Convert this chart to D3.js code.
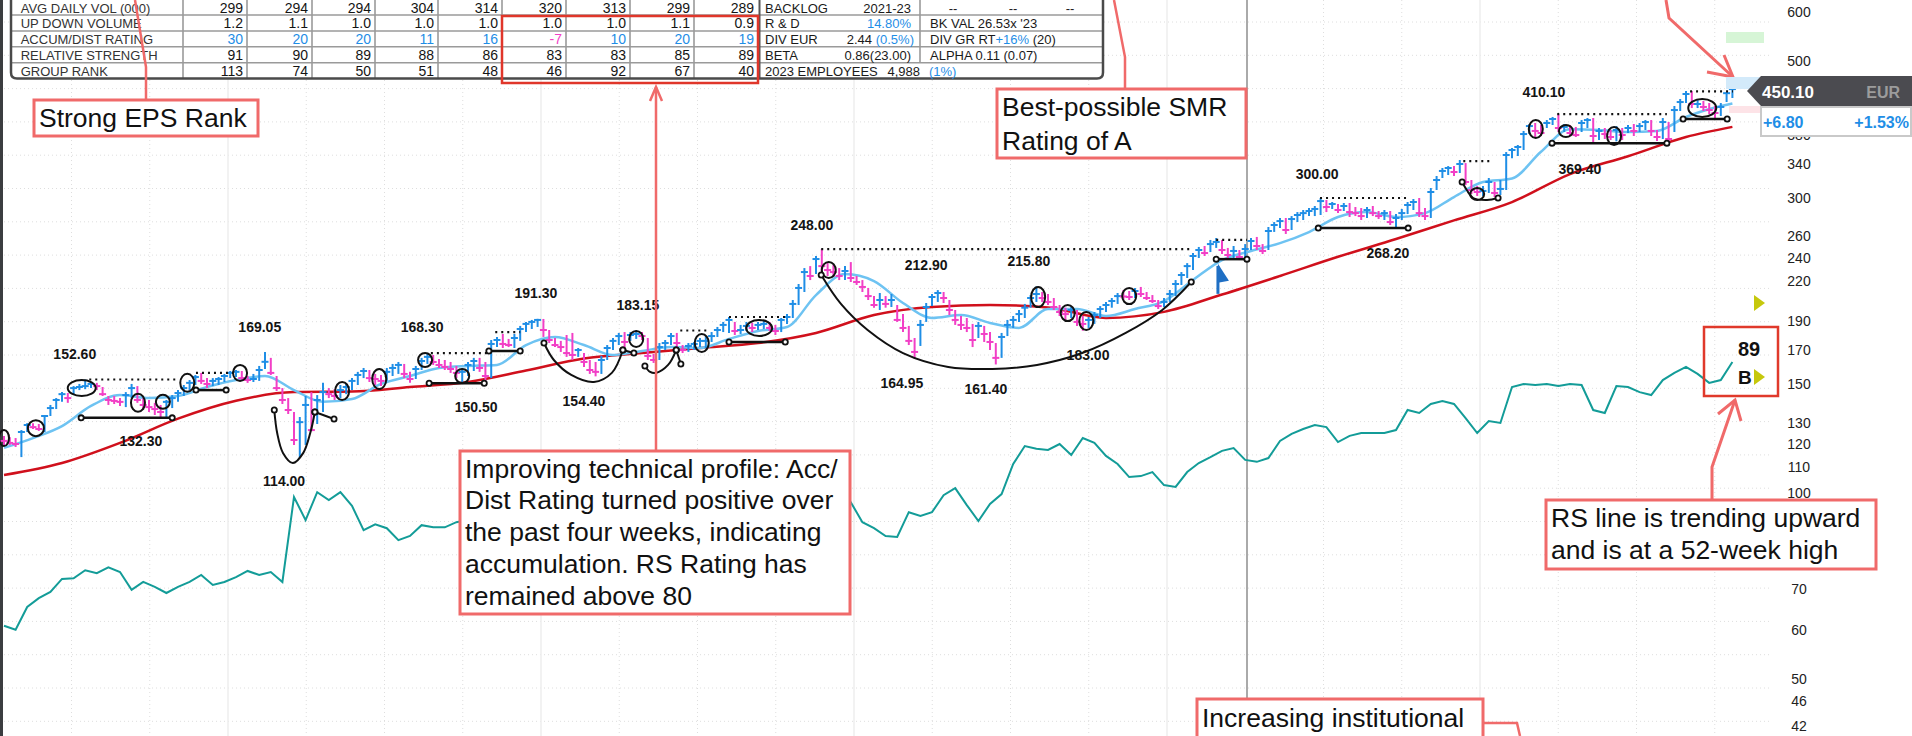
<!DOCTYPE html>
<meta charset="utf-8">
<script src="https://d3js.org/d3.v7.min.js"></script>
<style>
body { margin: 0; background: #fff; }
svg { display: block; font-family: "Liberation Sans", Arial, sans-serif; }
</style>
<svg id="chart" width="1912" height="736"></svg>
<script>
// ---- daily bars (price, EUR) ----
const high = [
123.6,123.1,122.7,126.4,129.7,129.7,129.3,133.7,138.8,142.4,
145.6,145.1,148.9,150.1,152.6,151.2,150.7,148.4,143.5,143.5,
142.4,145.6,150.1,148.9,142.4,141.4,139.9,138.8,141.4,144.0,
146.7,149.5,152.3,155.2,156.4,153.4,153.4,154.0,155.8,157.5,
158.1,157.5,154.6,155.8,160.5,169.05,165.4,154.6,147.8,142.4,
135.2,132.7,143.5,145.6,144.0,150.7,147.8,147.2,149.5,150.7,
153.4,157.0,159.3,158.1,155.8,155.2,159.3,161.7,162.9,161.7,
157.0,160.5,165.4,168.3,167.2,164.7,164.1,162.9,160.5,159.3,
162.9,165.4,165.4,162.9,176.8,178.8,180.8,177.5,180.8,186.3,
189.1,190.5,191.3,191.2,183.5,178.1,176.2,180.1,181.5,171.6,
168.4,164.1,162.9,166.6,173.5,178.1,181.5,182.1,182.1,183.15,
182.1,178.1,167.8,174.8,176.8,181.5,181.5,173.5,174.8,175.5,
178.1,179.4,182.1,185.6,189.1,192.6,189.1,187.0,189.1,188.4,
189.1,189.8,189.1,187.0,191.9,194.7,205.2,217.8,231.1,232.8,
241.7,248.0,235.4,233.7,231.1,232.8,236.3,224.4,221.0,214.6,
208.2,210.6,208.2,209.8,201.4,194.7,186.3,178.1,190.5,202.9,
209.8,212.9,211.4,205.2,197.7,193.3,191.9,187.7,189.1,186.3,
182.1,174.8,181.5,190.5,193.3,197.7,202.2,209.0,215.8,211.4,
209.8,206.7,201.4,199.4,199.9,197.7,193.3,192.6,196.2,200.6,
203.7,206.7,210.6,213.0,212.2,214.6,215.4,211.4,209.0,205.2,
206.7,213.0,221.0,227.7,235.4,244.4,250.0,250.9,256.6,258.5,
256.6,249.1,250.9,247.2,252.7,258.5,259.5,252.7,269.3,274.3,
278.5,278.5,280.5,284.7,286.9,289.0,291.2,300.0,297.8,295.6,
293.4,294.5,294.5,290.1,289.0,290.1,291.2,285.8,286.9,285.8,
282.6,288.0,295.6,298.9,300.0,289.0,311.4,325.6,335.5,337.9,
337.9,345.6,341.7,320.8,313.7,313.7,323.2,318.4,320.8,356.0,
361.4,365.5,385.1,395.2,396.7,393.7,401.1,405.7,410.1,395.2,
393.7,390.9,401.1,404.1,404.1,389.4,389.4,386.5,392.2,389.4,
393.7,395.2,396.7,401.1,401.1,386.5,404.1,398.1,422.6,433.8,
446.8,446.8,432.1,430.5,427.3,422.6,427.3,445.0,451.9];
const low = [
119.2,119.6,118.7,114.3,125.5,126.9,126.0,125.5,133.2,136.7,
140.4,139.9,144.0,146.7,147.2,147.8,146.7,143.5,138.8,139.3,
138.3,137.7,142.4,139.9,136.2,135.2,133.7,132.7,132.3,137.2,
140.4,143.5,146.7,149.5,150.1,147.8,148.9,149.5,151.2,153.4,
154.0,151.8,150.7,151.2,151.8,158.7,155.2,146.2,139.3,134.2,
119.6,114.0,119.6,125.9,129.3,135.2,142.4,141.4,142.4,144.5,
146.7,149.5,153.4,151.2,149.5,148.9,151.8,154.6,155.8,153.4,
150.7,152.9,158.1,161.7,161.1,159.3,158.1,156.4,153.4,150.5,
154.6,157.5,157.0,151.8,153.4,172.2,171.6,172.2,171.6,176.2,
182.1,184.2,185.6,178.8,174.8,172.2,169.1,166.0,164.1,166.0,
159.9,155.8,154.4,155.8,164.1,170.3,173.5,172.2,176.2,177.5,
176.8,164.1,162.3,164.1,170.3,173.5,171.6,168.4,169.1,170.3,
172.2,171.6,175.5,178.8,182.1,181.5,180.1,180.8,182.8,182.1,
183.5,184.2,182.8,180.1,182.1,187.7,191.9,201.4,211.4,221.0,
226.0,227.7,224.4,223.5,221.0,221.0,219.4,217.0,211.4,205.2,
199.4,197.7,199.4,199.9,189.1,182.1,173.5,164.95,172.9,189.1,
200.6,203.7,202.9,194.0,187.0,183.5,182.1,172.2,178.1,175.5,
170.3,161.4,165.4,179.4,184.9,189.1,191.9,199.4,203.7,203.7,
201.4,197.7,193.3,190.5,191.9,186.3,183.0,184.9,187.7,191.9,
196.2,199.4,202.2,205.2,205.2,206.7,207.5,205.2,202.9,198.4,
199.9,203.7,208.2,217.0,222.7,229.4,239.9,241.7,245.3,249.1,
243.5,239.9,239.9,238.1,239.9,247.2,247.2,243.5,247.2,264.4,
268.3,262.4,266.3,274.3,276.4,280.5,280.5,281.6,284.7,288.0,
283.6,285.8,279.5,280.5,276.4,278.5,280.5,277.4,276.4,271.3,
268.2,276.4,282.6,286.9,279.5,276.4,278.5,309.1,323.2,326.8,
325.6,329.3,314.9,304.5,302.3,302.3,305.7,301.1,303.4,309.1,
347.9,350.8,358.7,380.7,376.5,377.9,389.4,393.7,383.6,383.6,
377.9,376.5,383.6,389.4,369.4,372.3,373.7,372.3,370.5,372.3,
382.2,377.9,383.6,386.5,377.9,370.9,373.7,370.0,383.6,414.8,
427.3,419.4,419.4,414.8,410.2,404.1,407.2,429.0,435.4];
const close = [
121.4,120.5,120.0,125.5,128.8,127.8,126.9,133.2,137.2,141.4,
144.5,142.4,147.8,148.4,148.9,150.1,148.9,144.5,141.4,140.9,
140.4,144.0,147.8,141.4,138.8,137.7,136.7,135.2,140.4,142.4,
145.1,147.8,150.7,154.0,151.8,150.1,151.8,152.9,154.6,156.4,
157.0,153.4,152.3,152.9,158.1,163.0,156.4,147.8,141.4,136.2,
121.8,130.2,138.8,126.4,141.4,145.6,144.5,143.5,146.7,148.4,
151.8,155.2,157.5,153.4,152.9,151.8,157.0,159.3,161.1,155.8,
152.9,158.7,163.5,166.0,162.9,161.1,159.9,158.7,156.4,157.0,
161.1,163.5,159.3,154.6,174.2,176.8,174.2,173.5,178.1,184.2,
187.7,189.1,190.5,183.5,176.8,173.5,172.2,168.4,167.2,170.3,
162.9,158.1,157.0,164.1,171.6,176.2,179.4,175.5,180.1,180.8,
179.4,166.6,164.1,172.2,174.8,179.4,174.8,170.3,172.9,174.2,
176.2,176.2,179.4,183.5,187.0,190.5,182.8,183.5,186.3,184.9,
187.0,187.7,184.9,182.8,190.5,192.6,202.2,214.6,227.7,224.4,
239.0,232.8,229.4,227.7,224.4,228.6,222.7,219.4,215.4,208.2,
201.4,205.2,202.2,205.2,190.5,184.9,176.2,169.1,187.0,199.9,
207.5,210.6,206.7,197.7,190.5,187.0,184.9,176.8,186.3,180.8,
175.5,165.4,178.8,187.0,190.5,194.7,199.4,206.7,209.8,206.7,
203.7,199.9,196.2,194.7,197.7,189.1,187.7,190.5,194.0,198.4,
201.4,204.4,208.2,207.9,207.5,212.2,209.8,206.7,204.4,200.6,
203.7,209.8,217.8,225.2,232.8,241.7,247.2,244.4,252.7,254.7,
247.2,242.6,246.3,240.8,248.1,255.6,250.9,246.3,265.3,271.3,
275.3,266.3,277.4,281.6,283.6,285.8,288.0,296.6,290.1,293.4,
286.9,291.2,284.7,283.6,280.5,286.9,283.6,280.5,283.6,274.3,
278.5,283.6,292.3,295.6,283.6,280.5,306.8,320.8,331.8,335.5,
330.5,340.5,318.4,309.1,306.8,308.0,318.4,305.7,310.3,352.1,
358.7,362.8,380.7,392.2,385.1,382.2,396.7,402.6,389.4,390.9,
382.2,379.3,396.7,401.1,377.9,385.1,380.7,376.5,386.5,379.3,
389.4,385.1,392.2,398.1,385.1,376.5,398.1,373.7,416.3,428.9,
441.9,425.8,425.8,421.1,416.3,411.7,421.1,443.3,450.1];

// moving averages: [day, value]
const maFast = [[0,118.3],[5,122.7],[10,128.3],[15,138.3],[20,144.0],[25,142.4],[30,143.5],[35,148.4],
  [40,152.3],[45,154.6],[50,146.7],[55,140.4],[60,141.9],[65,150.1],[70,154.6],[75,159.3],[80,160.5],
  [85,161.1],[90,173.5],[95,178.8],[100,173.5],[105,167.2],[110,169.7],[115,172.2],[120,171.6],
  [125,177.5],[130,182.8],[135,185.6],[140,209.0],[145,226.0],[150,220.2],[155,202.9],[160,191.9],
  [165,194.0],[170,188.4],[175,184.9],[180,198.4],[185,198.4],[190,193.3],[195,198.4],[200,204.4],
  [205,221.0],[210,238.1],[215,246.3],[220,253.6],[225,264.3],[230,279.5],[235,284.7],[240,279.5],
  [245,283.6],[250,301.1],[255,318.4],[260,322.6],[265,356.4],[270,387.5],[275,386.5],[280,383.6],
  [285,385.1],[290,405.7],[295,420.3],[298,426.7]];
const maSlow = [[0,106.9],[10,111.8],[20,120.5],[30,131.9],[40,141.0],[50,145.6],[60,145.9],[70,148.4],
  [80,151.2],[90,157.8],[100,165.0],[110,168.4],[120,171.6],[130,174.8],[140,181.5],[150,194.0],
  [160,199.9],[170,201.4],[180,199.6],[190,191.9],[200,196.3],[210,209.4],[220,224.4],[230,241.0],
  [240,257.5],[250,276.0],[260,295.5],[270,328.0],[280,350.5],[290,376.5],[298,391.0]];

// relative strength line, one value every 2 days (hidden behind the callout in between)
const rsStep = 2;
const rsFirst = [61.0,60.1,65.4,67.6,69.2,72.6,72.8,75.0,74.2,75.8,74.5,69.7,71.8,70.5,68.9,70.5,
  71.8,73.7,71.0,71.8,73.1,74.8,73.7,74.5,71.8,98.5,90.4,100.3,97.4,100.3,95.3,87.1,89.0,87.7,83.9,
  85.2,88.7,88.0,88.0,89.7,90.4];
const rsSecondStart = 144;
const rsSecond = [96.6,96.6,89.7,87.7,85.2,84.9,93.1,91.8,93.1,99.2,101.8,95.6,90.1,96.0,99.6,111.4,
  119.1,117.9,117.4,120.0,115.2,122.7,120.5,114.8,111.4,106.1,106.5,108.1,103.0,102.3,108.1,111.8,
  114.3,117.0,118.2,113.1,112.3,113.9,121.4,124.6,126.9,128.8,127.8,120.9,123.7,125.0,125.0,125.0,
  126.4,136.2,134.7,139.3,140.9,139.3,132.2,125.0,130.7,129.8,148.4,150.1,149.5,150.1,148.9,150.1,
  149.5,136.2,134.7,148.9,148.4,145.6,144.0,152.3,156.4,160.0,155.8,150.7,152.3,162.9];

// chart markup: [day, price, rx, ry]
const ellipses = [[0,122.7,5,8],[5.5,127.3,8,8],[13.4,147.8,14,8],[23.1,139.9,7,9],[27.4,140.4,7,7],
  [31.6,150.7,7,9],[40.7,156.4,7,8],[58.3,146.2,7,9],[64.7,152.9,7,10],[72.6,164.1,7,7],[79,154.6,7,7],
  [109,177.5,7,8],[120.3,174.8,7,9],[130.2,184.9,13,8],[142.2,229.4,7,8],[178.3,207.5,7,10],
  [183.4,195.4,7,8],[186.6,189.8,7,9],[194,208.2,7,8],[254,304.5,7,6],[264.1,387.9,7,9],
  [269.3,385.1,7,6],[277.6,377.9,7,9],[292.8,419.4,14,9]];
// base lines: [dayFrom, dayTo, price]
const baseLines = [[13.3,29,132.3],[33.1,38.3,146.7],[73.3,82.8,150.5],[83.6,89,169.7],[125,134.7,175.5],
  [209,214.3,238.9],[226.6,242.1,268.2],[266.9,286.7,368.0],[289.5,297.1,402.6]];
const pivotLines = [[14.7,30,152.6],[33.1,40.2,156.4],[73.6,83.3,168.3],[84.7,89,182.1],[116.6,121.2,183.15],
  [125,135,192.6],[140.9,204.7,248.0],[209,214.3,256.6],[226.9,242.4,300.0],[251.6,256.7,344.3],
  [267.8,286.7,410.1],[290.7,298.1,446.4]];
const curves = [
  [[46.6,136.2],[47.1,125.0],[48.1,116.1],[49.8,111.8],[51.6,116.1],[52.8,125.0],[53.6,135.2]],
  [[53.6,135.2],[56.9,131.7]],
  [[93.1,174.8],[94.8,164.1],[97.8,155.2],[101.7,151.2],[104.8,156.4],[106.7,170.3]],
  [[106.7,170.3],[108.6,168.4]],
  [[110.5,160.5],[111.4,157.0],[112.4,156.4],[114.5,161.1],[115.9,170.3]],
  [[115.9,170.3],[116.7,161.7]],
  [[140.9,225.2],[144.3,202.2],[148.9,183.5],[155,168.4],[162.8,159.9],[170.4,158.7],[178.1,161.1],
   [185.9,168.4],[193.4,181.5],[199.7,197.7],[204.7,219.4]],
  [[251.4,318.4],[252.2,309.1],[253.3,300.0],[255.7,297.8],[257.6,300.0]]];
const priceLabels = [["152.60",12.2,167.8],["132.30",23.6,121.4],["169.05",44.1,185.6],["114.00",48.3,104.5],
  ["168.30",72.1,185.6],["191.30",91.7,210.6],["150.50",81.4,137.7],["154.40",100,140.9],
  ["183.15",109.3,201.4],["248.00",139.3,271.3],["212.90",159,233.7],["215.80",176.7,237.2],
  ["164.95",154.8,150.7],["161.40",169.3,147.2],["183.00",186.9,167.2],["300.00",226.4,328.0],
  ["268.20",238.6,244.4],["410.10",265.5,445.2],["369.40",271.7,334.2]];
const priceTicks = [600,500,380,340,300,260,240,220,190,170,150,130,120,110,100,70,60,50,46,42];

// data box
const rowNames = ["AVG DAILY VOL (000)","UP DOWN VOLUME","ACCUM/DIST RATING","RELATIVE STRENGTH","GROUP RANK"];
const avgVol = [299,294,294,304,314,320,313,299,289];
const upDown = ["1.2","1.1","1.0","1.0","1.0","1.0","1.0","1.1","0.9"];
const accDist = [30,20,20,11,16,-7,10,20,19];
const relStrength = [91,90,89,88,86,83,83,85,89];
const groupRank = [113,74,50,51,48,46,92,67,40];
const lastPrice = "450.10", change = "+6.80", changePct = "+1.53%", rsRating = "89", adRating = "B";

const UP = "#1f8ee6", DOWN = "#f23fc6", RED = "#f06a6a";
const svg = d3.select("#chart");
const W = 1912, H = 736;

const x = d3.scaleLinear().domain([0, close.length - 1]).range([4, 1732.4]);
const y = d3.scaleLog().domain([42, 600]).range([725.9, 11.9]);

// grid
const grid = svg.append("g");
for (let gy = 22; gy < H; gy += 33.3) {
  grid.append("line").attr("x1", 0).attr("x2", 1770).attr("y1", gy).attr("y2", gy)
    .attr("stroke", "#dedede").attr("stroke-width", 1).attr("stroke-dasharray", "1,3");
}
for (let k = -2; k < 20; k++) {
  const gx = 228 + 78.25 * k;
  if (gx < 0 || gx > 1770 || k === 13) continue;
  grid.append("line").attr("x1", gx).attr("x2", gx).attr("y1", 0).attr("y2", H)
    .attr("stroke", k % 4 === 0 ? "#eeeeee" : "#dedede")
    .attr("stroke-width", k % 4 === 0 ? 1.5 : 1)
    .attr("stroke-dasharray", k % 4 === 0 ? null : "1,3");
}
svg.append("line").attr("x1", 1247).attr("x2", 1247).attr("y1", 0).attr("y2", 699)
  .attr("stroke", "#8e8e8e").attr("stroke-width", 1.5);
svg.append("rect").attr("x", 0).attr("y", 0).attr("width", 3).attr("height", H).attr("fill", "#3b3d40");

// moving averages
const maLine = d3.line().x(d => x(d[0])).y(d => y(d[1])).curve(d3.curveMonotoneX);
svg.append("path").attr("d", maLine(maSlow)).attr("fill", "none").attr("stroke", "#d0101c").attr("stroke-width", 2.5);
svg.append("path").attr("d", maLine(maFast)).attr("fill", "none").attr("stroke", "#6ec3f2").attr("stroke-width", 2.5);

// RS line
const rsLine = d3.line().x(d => x(d[0])).y(d => y(d[1]));
[rsFirst.map((v, j) => [j * rsStep, v]), rsSecond.map((v, j) => [rsSecondStart + j * rsStep, v])]
  .forEach(pts => svg.append("path").attr("d", rsLine(pts)).attr("fill", "none")
    .attr("stroke", "#139c98").attr("stroke-width", 2));

// price bars
const bars = svg.append("g").attr("stroke-width", 2);
bars.selectAll("g").data(d3.range(close.length)).join("g")
  .attr("stroke", i => (i > 0 && close[i] >= close[i - 1]) ? UP : DOWN)
  .each(function(i) {
    const g = d3.select(this);
    g.append("line").attr("x1", x(i)).attr("x2", x(i)).attr("y1", y(high[i])).attr("y2", y(low[i]));
    g.append("line").attr("x1", x(i) - 3.5).attr("x2", x(i) + 3.5).attr("y1", y(close[i])).attr("y2", y(close[i]));
  });

// markup
const mk = svg.append("g").attr("fill", "none").attr("stroke", "#111").attr("stroke-width", 2);
const curveLine = d3.line().x(d => x(d[0])).y(d => y(d[1])).curve(d3.curveCatmullRom);
pivotLines.forEach(d => mk.append("line").attr("x1", x(d[0])).attr("x2", x(d[1]))
  .attr("y1", y(d[2])).attr("y2", y(d[2])).attr("stroke-dasharray", "2,4").attr("stroke-width", 2.2));
baseLines.forEach(d => mk.append("line").attr("x1", x(d[0])).attr("x2", x(d[1]))
  .attr("y1", y(d[2])).attr("y2", y(d[2])).attr("stroke-width", 2.5));
curves.forEach(c => mk.append("path").attr("d", curveLine(c)));
ellipses.forEach(d => mk.append("ellipse").attr("cx", x(d[0])).attr("cy", y(d[1])).attr("rx", d[2]).attr("ry", d[3]));
const ends = [];
baseLines.forEach(d => { ends.push([d[0], d[2]]); ends.push([d[1], d[2]]); });
curves.forEach(c => { ends.push(c[0]); ends.push(c[c.length - 1]); });
ends.forEach(p => mk.append("circle").attr("cx", x(p[0])).attr("cy", y(p[1])).attr("r", 2.6)
  .attr("fill", "#fff").attr("stroke-width", 1.8));

// breakout pointer
const bx = x(209.3), by = y(233);
svg.append("line").attr("x1", bx).attr("x2", bx).attr("y1", by).attr("y2", by + 28)
  .attr("stroke", "#1f6fc4").attr("stroke-width", 3);
svg.append("path").attr("d", `M${bx},${by - 2}L${bx + 11},${by + 15}L${bx},${by + 17}Z`).attr("fill", "#1f6fc4");

svg.append("g").selectAll("text").data(priceLabels).join("text")
  .attr("x", d => x(d[1])).attr("y", d => y(d[2]) + 5).attr("text-anchor", "middle")
  .attr("font-size", 14).attr("font-weight", "bold").attr("fill", "#141414").text(d => d[0]);

// right axis
const axis = svg.append("g").attr("transform", "translate(1787,0)")
  .call(d3.axisRight(y).tickValues(priceTicks).tickSize(0).tickFormat(d3.format("d")));
axis.select(".domain").remove();
axis.selectAll("text").attr("x", 12).attr("text-anchor", "middle").attr("font-size", 14)
  .attr("fill", "#222").attr("font-family", "Liberation Sans, Arial, sans-serif");

// data table
const tb = svg.append("g");
const colEdge = [183, 247, 312, 375, 438, 502, 566, 630, 694, 758];
const rowEdge = [0, 15, 31, 46.7, 62.7, 78.5];
tb.append("rect").attr("x", 11).attr("y", -2).attr("width", 1092).attr("height", 80.5).attr("fill", "#fff");
rowEdge.slice(1, 5).forEach(ry => tb.append("line").attr("x1", 11).attr("x2", 1103).attr("y1", ry).attr("y2", ry)
  .attr("stroke", "#9a9a9a").attr("stroke-width", 1.6));
colEdge.slice(0, 9).forEach(cx => tb.append("line").attr("x1", cx).attr("x2", cx).attr("y1", 0).attr("y2", 78.5)
  .attr("stroke", "#9a9a9a").attr("stroke-width", 1.6));
tb.append("line").attr("x1", 920).attr("x2", 920).attr("y1", 0).attr("y2", 62.7).attr("stroke", "#9a9a9a").attr("stroke-width", 1.6);
tb.append("line").attr("x1", 759.5).attr("x2", 759.5).attr("y1", 0).attr("y2", 78.5).attr("stroke", "#555").attr("stroke-width", 2);
tb.append("path").attr("d", "M11,0V72.5Q11,78.5 17,78.5H1097Q1103,78.5 1103,72.5V0")
  .attr("fill", "none").attr("stroke", "#4a4a4a").attr("stroke-width", 2.5);
const rowMid = i => (rowEdge[i] + rowEdge[i + 1]) / 2 + 5;
rowNames.forEach((n, r) => tb.append("text").attr("x", 20.7).attr("y", rowMid(r)).attr("font-size", 13)
  .attr("fill", "#333").text(n));
[avgVol, upDown, accDist, relStrength, groupRank].forEach((vals, r) => {
  vals.forEach((v, c) => tb.append("text").attr("x", colEdge[c + 1] - 4).attr("y", rowMid(r))
    .attr("text-anchor", "end").attr("font-size", 14)
    .attr("fill", r === 2 ? (v < 0 ? DOWN : UP) : "#141414").text(v));
});
const cell = (tx, r, parts, anchor) => {
  const t = tb.append("text").attr("x", tx).attr("y", rowMid(r)).attr("font-size", 13).attr("text-anchor", anchor || "start");
  parts.forEach(p => t.append("tspan").attr("fill", p[1] ? UP : "#1a1a1a").text(p[0]));
};
cell(765, 0, [["BACKLOG"]]); cell(911, 0, [["2021-23"]], "end");
[953, 1013, 1070].forEach(cx => cell(cx, 0, [["--"]], "middle"));
cell(765, 1, [["R & D"]]); cell(911, 1, [["14.80%", 1]], "end"); cell(930, 1, [["BK VAL  26.53x '23"]]);
cell(765, 2, [["DIV EUR"]]); cell(914, 2, [["2.44 "], ["(0.5%)", 1]], "end");
cell(930, 2, [["DIV GR RT"], ["+16%", 1], ["  (20)"]]);
cell(765, 3, [["BETA"]]); cell(911, 3, [["0.86(23.00)"]], "end"); cell(930, 3, [["ALPHA 0.11 (0.07)"]]);
cell(765, 4, [["2023 EMPLOYEES"]]); cell(920, 4, [["4,988"]], "end"); cell(929, 4, [["(1%)", 1]]);
tb.append("rect").attr("x", 502).attr("y", 16).attr("width", 256).attr("height", 67)
  .attr("fill", "none").attr("stroke", "#e0362a").attr("stroke-width", 2.5);

// callouts
const ann = svg.append("g");
const poly = (pts, w) => ann.append("path").attr("d", "M" + pts.map(p => p.join(",")).join("L"))
  .attr("fill", "none").attr("stroke", RED).attr("stroke-width", w || 2.5);
const callout = (bx0, by0, bw, bh, lines, lineGap, firstBase) => {
  ann.append("rect").attr("x", bx0).attr("y", by0).attr("width", bw).attr("height", bh)
    .attr("fill", "#fff").attr("stroke", RED).attr("stroke-width", 3);
  lines.forEach((l, k) => ann.append("text").attr("x", bx0 + 5).attr("y", firstBase + k * lineGap)
    .attr("font-size", 26.5).attr("fill", "#111").text(l));
};
poly([[146, 100], [146, 67], [135, 0]]);
callout(34, 100, 224, 36, ["Strong EPS Rank"], 0, 126.5);
poly([[1125, 89], [1125, 57], [1114, 0]]);
callout(997, 89, 249, 69, ["Best-possible SMR", "Rating of A"], 34, 115.5);
poly([[656, 451], [656, 87]]);
poly([[650, 101], [656, 87], [662, 101]]);
callout(460, 451, 390, 163, ["Improving technical profile: Acc/", "Dist Rating turned positive over",
  "the past four weeks, indicating", "accumulation. RS Rating has", "remained above 80"], 31.8, 477.5);
poly([[1483, 723], [1517, 723], [1520, 736]]);
callout(1197, 699, 286, 50, ["Increasing institutional"], 0, 726.5);

// last price markers
svg.append("rect").attr("x", 1726).attr("y", 32).attr("width", 38).attr("height", 11).attr("fill", "#d6f5d6");
svg.append("rect").attr("x", 1726).attr("y", 77).attr("width", 36).attr("height", 12).attr("fill", "#d3eafa");
svg.append("rect").attr("x", 1729).attr("y", 106).attr("width", 33).attr("height", 7).attr("fill", "#fde3e7");
const py = y(+lastPrice);
svg.append("path").attr("d", `M1747,${py + 2}L1761,76H1912V106H1761Z`).attr("fill", "#4b4b50");
svg.append("text").attr("x", 1762).attr("y", py + 8.5).attr("font-size", 17).attr("font-weight", "bold")
  .attr("fill", "#fff").text(lastPrice);
svg.append("text").attr("x", 1900).attr("y", py + 8.5).attr("text-anchor", "end").attr("font-size", 16)
  .attr("font-weight", "bold").attr("fill", "#9c9c9c").text("EUR");
svg.append("rect").attr("x", 1761).attr("y", 107).attr("width", 150).attr("height", 29)
  .attr("fill", "#fff").attr("stroke", "#c9c9c9").attr("stroke-width", 2);
svg.append("text").attr("x", 1763).attr("y", 128).attr("font-size", 16).attr("font-weight", "bold").attr("fill", UP).text(change);
svg.append("text").attr("x", 1909).attr("y", 128).attr("text-anchor", "end").attr("font-size", 16)
  .attr("font-weight", "bold").attr("fill", UP).text(changePct);
poly([[1666, 0], [1669, 18], [1733, 77]], 3);
poly([[1707, 72], [1733, 77], [1724, 55]], 3);

// RS rating box
svg.append("rect").attr("x", 1704).attr("y", 327).attr("width", 74).attr("height", 69)
  .attr("fill", "none").attr("stroke", "#e0392b").attr("stroke-width", 2.5);
svg.append("text").attr("x", 1738).attr("y", 356).attr("font-size", 20).attr("font-weight", "bold").attr("fill", "#111").text(rsRating);
svg.append("text").attr("x", 1738).attr("y", 384).attr("font-size", 19).attr("font-weight", "bold").attr("fill", "#111").text(adRating);
[377, 303].forEach(ty => svg.append("path").attr("d", `M1754,${ty - 8}L1765,${ty}L1754,${ty + 8}Z`).attr("fill", "#c6c80c"));
callout(1546, 500, 330, 69, ["RS line is trending upward", "and is at a 52-week high"], 32.5, 526.5);
poly([[1712, 500], [1712, 467], [1735, 400]], 3);
poly([[1718, 414], [1735, 400], [1741, 421]], 3);
</script>
